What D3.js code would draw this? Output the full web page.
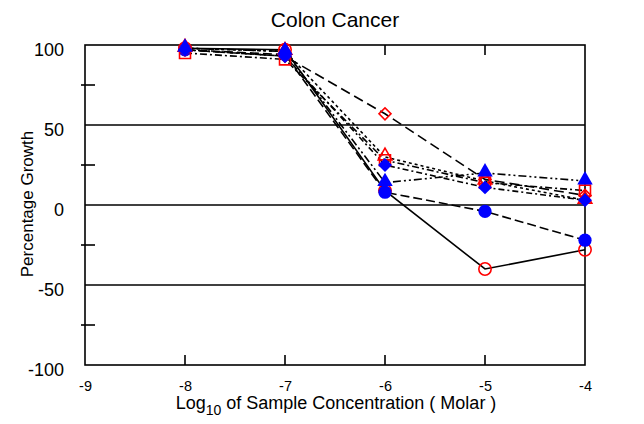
<!DOCTYPE html>
<html><head><meta charset="utf-8">
<script src="https://cdn.jsdelivr.net/npm/d3@7"></script>
<style>body{margin:0;background:#fff}svg{font-family:"Liberation Sans",Arial,sans-serif}</style>
</head><body><svg id="c" width="644" height="424"></svg>
<script>
const concentrations = [-8, -7, -6, -5, -4];
const xTicks = [-9, -8, -7, -6, -5, -4];
const yTicks = [-100, -50, 0, 50, 100];
const yMinorTicks = [-75, -25, 25, 75];
const gridValues = [-50, 0, 50];
// drawing order: later series are on top
const seriesNames = ["Red circle", "Blue circle", "Red triangle", "Red diamond", "Red square", "Blue diamond", "Blue triangle"];
const seriesValues = [
  [98, 97, 9, -40, -28],
  [97, 94, 8, -4, -22],
  [98, 96, 30, 15, 3],
  [97, 93, 57, 16, 6],
  [95, 91, 28, 14, 9],
  [97, 93, 25, 11, 3],
  [98, 96, 14, 20, 15]
];
const seriesSymbols = ["circle", "circle", "triangle", "diamond", "square", "diamond", "triangle"];
const seriesFilled = [false, true, false, false, false, true, true];
const seriesDash = [null, "9,4", "3,3", "10,5", "7,3,2,3", "6,3,2,3", "8,3,2,3,2,3"];

const svg = d3.select("#c");
const x = d3.scaleLinear().domain([-9, -4]).range([85, 585]);
const y = d3.scaleLinear().domain([-100, 100]).range([365, 45]);
const fmt = d => String(d);

// gridlines
svg.selectAll(".grid").data(gridValues).enter().append("line")
  .attr("x1", x(-9)).attr("x2", x(-4)).attr("y1", d => y(d)).attr("y2", d => y(d))
  .attr("stroke", "#000").attr("stroke-width", 1.6);

// frame
svg.append("rect").attr("x", x(-9)).attr("y", y(100)).attr("width", x(-4) - x(-9)).attr("height", y(-100) - y(100))
  .attr("fill", "none").attr("stroke", "#000").attr("stroke-width", 1.6);

// y axis
const yAxis = d3.axisLeft(y).tickValues(yTicks).tickSize(0).tickPadding(21).tickFormat(fmt);
const gy = svg.append("g").attr("transform", `translate(${x(-9)},0)`).call(yAxis);
gy.select(".domain").remove();
gy.selectAll("text").attr("font-size", 18).attr("dy", "0.6em").attr("fill", "#000").attr("font-family", "Liberation Sans, Arial, sans-serif");
svg.selectAll(".ymin").data(yMinorTicks).enter().append("line")
  .attr("x1", x(-9) - 4).attr("x2", x(-9) + 10).attr("y1", d => y(d)).attr("y2", d => y(d))
  .attr("stroke", "#000").attr("stroke-width", 1.6);

// x axis
const xAxis = d3.axisBottom(x).tickValues(xTicks).tickSize(0).tickPadding(16).tickFormat(fmt);
const gx = svg.append("g").attr("transform", `translate(0,${y(-100)})`).call(xAxis);
gx.select(".domain").remove();
gx.selectAll("text").attr("font-size", 14.5).attr("fill", "#000").attr("font-family", "Liberation Sans, Arial, sans-serif");
const inner = xTicks.slice(1, -1);
svg.selectAll(".xb").data(inner).enter().append("line")
  .attr("x1", d => x(d)).attr("x2", d => x(d)).attr("y1", y(-100)).attr("y2", y(-100) - 10)
  .attr("stroke", "#000").attr("stroke-width", 1.6);
svg.selectAll(".xt").data(inner).enter().append("line")
  .attr("x1", d => x(d)).attr("x2", d => x(d)).attr("y1", y(100)).attr("y2", y(100) + 10)
  .attr("stroke", "#000").attr("stroke-width", 1.6);

// titles
svg.append("text").attr("x", 335).attr("y", 27).attr("text-anchor", "middle").attr("font-size", 21).text("Colon Cancer");
const xt = svg.append("text").attr("x", 336).attr("y", 409).attr("text-anchor", "middle").attr("font-size", 18);
xt.append("tspan").text("Log");
xt.append("tspan").attr("dy", 6).attr("font-size", 14).text("10");
xt.append("tspan").attr("dy", -6).text(" of Sample Concentration ( Molar )");
svg.append("text").attr("transform", "translate(33,204) rotate(-90)").attr("text-anchor", "middle").attr("font-size", 17).text("Percentage Growth");

// lines
const line = d3.line().x((d, i) => x(concentrations[i])).y(d => y(d));
seriesValues.forEach((vals, s) => {
  svg.append("path").attr("d", line(vals)).attr("fill", "none").attr("stroke", "#000").attr("stroke-width", 1.6)
    .attr("stroke-dasharray", seriesDash[s]);
});

// markers
const symMap = {circle: d3.symbolCircle, square: d3.symbolSquare, triangle: d3.symbolTriangle, diamond: d3.symbolSquare};
const sizeMap = {circle: 120, square: 120, triangle: 80, diamond: 72};
const filledScale = {circle: 1.15, square: 1.15, triangle: 1.3, diamond: 1.35};
seriesValues.forEach((vals, s) => {
  const t = seriesSymbols[s];
  const sym = d3.symbol().type(symMap[t]).size(seriesFilled[s] ? sizeMap[t] * filledScale[t] : sizeMap[t]);
  svg.selectAll(".m" + s).data(vals).enter().append("path")
    .attr("transform", (d, i) => `translate(${x(concentrations[i])},${y(d)})` + (t === "diamond" ? " rotate(45)" : "") + (t === "triangle" ? " translate(0,-1)" : ""))
    .attr("d", sym)
    .attr("fill", seriesFilled[s] ? "#0000ff" : "none")
    .attr("stroke", seriesFilled[s] ? "#0000ff" : "#ff0000")
    .attr("stroke-width", seriesFilled[s] ? 0 : 1.6);
});
</script></body></html>
